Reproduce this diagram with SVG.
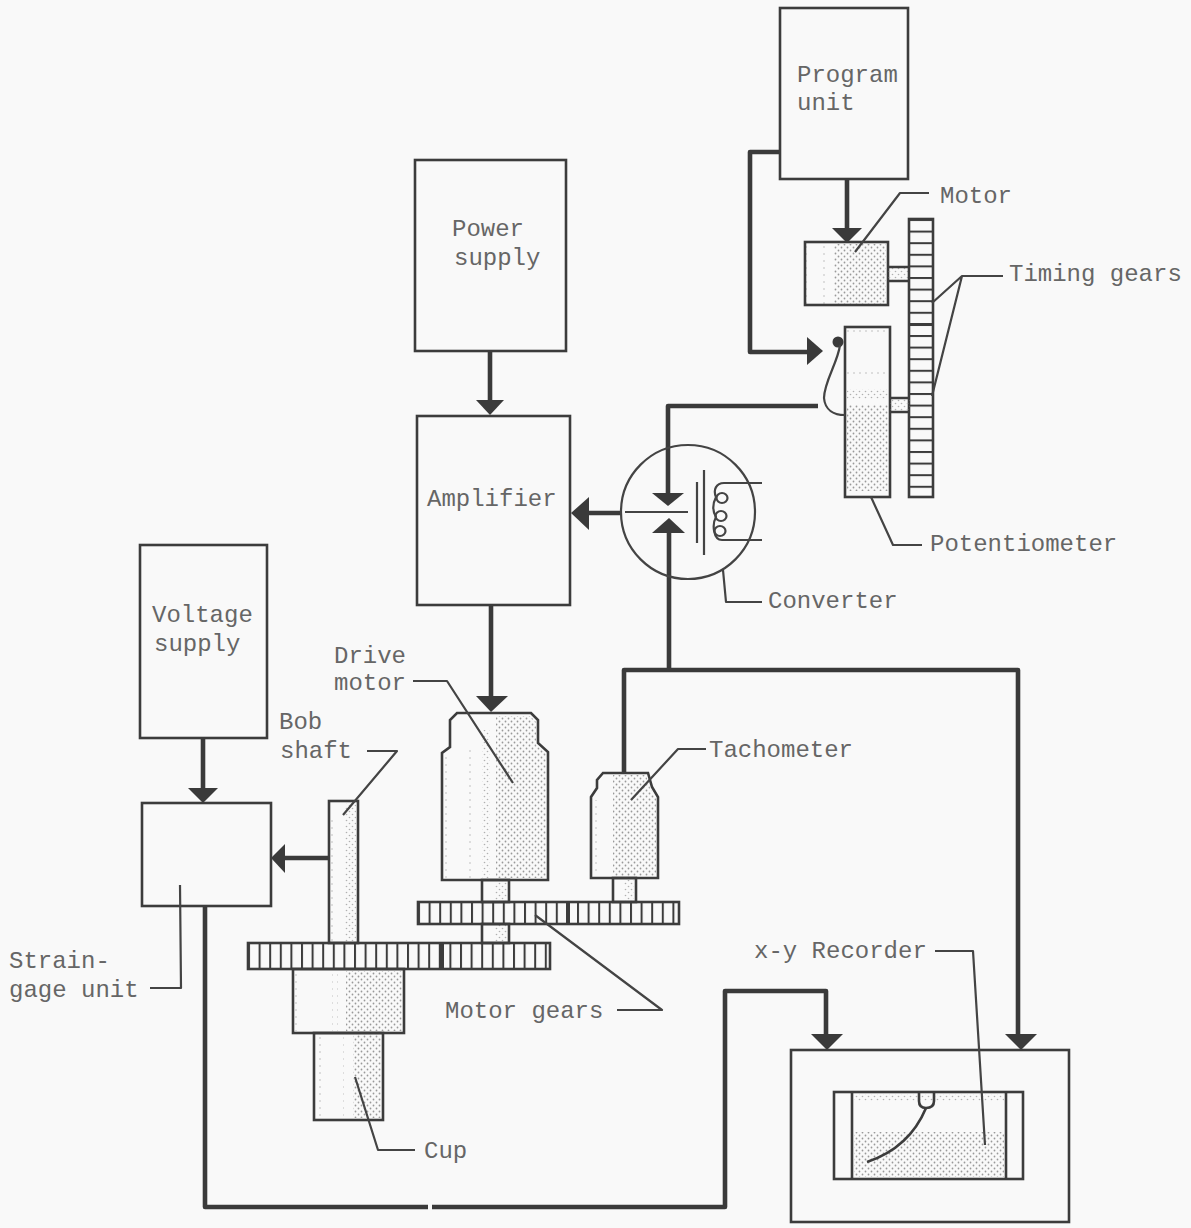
<svg xmlns="http://www.w3.org/2000/svg" width="1191" height="1228" viewBox="0 0 1191 1228">
<style>
.b{fill:none;stroke:#3c3c3c;stroke-width:2.6}
.w{fill:none;stroke:#3a3a3a;stroke-width:4.6;stroke-linejoin:round;stroke-linecap:butt}
.h{fill:#3a3a3a;stroke:none}
.l{fill:none;stroke:#444;stroke-width:2.2;stroke-linejoin:round}
.t{font-family:"Liberation Mono",monospace;font-size:24px;fill:#666}
.d{fill:url(#dense);stroke:none}
.s{fill:url(#sparse);stroke:none}
.v{fill:url(#vsparse);stroke:none}
</style>
<defs>
<pattern id="dense" width="6" height="6" patternUnits="userSpaceOnUse"><circle cx="1.5" cy="1.5" r="0.9" fill="#999"/><circle cx="4.5" cy="4.5" r="0.9" fill="#999"/></pattern>
<pattern id="sparse" width="6" height="6" patternUnits="userSpaceOnUse"><circle cx="1.5" cy="1.5" r="0.8" fill="#b0b0b0"/><circle cx="4.5" cy="4.5" r="0.8" fill="#b0b0b0"/></pattern>
<pattern id="vsparse" width="6" height="7" patternUnits="userSpaceOnUse"><circle cx="2" cy="2" r="0.8" fill="#b8b8b8"/></pattern>
<pattern id="teethV" width="10.6" height="30" patternUnits="userSpaceOnUse" x="418"><rect x="0" width="2" height="30" fill="#3c3c3c"/></pattern>
<pattern id="teethV2" width="10.6" height="30" patternUnits="userSpaceOnUse" x="248"><rect x="0" width="2" height="30" fill="#3c3c3c"/></pattern>
<pattern id="teethH" width="30" height="11.6" patternUnits="userSpaceOnUse" y="219"><rect y="0" width="30" height="2" fill="#3c3c3c"/></pattern>
</defs>
<rect width="1191" height="1228" fill="#f9f9f9"/>

<g id="connectors">
<path class="w" d="M780,152H750V352H810"/><path class="h" d="M823,351L807,337V365Z"/>
<path class="w" d="M847,179V230"/><path class="h" d="M847,243L832,228H862Z"/>
<path class="w" d="M818,406H668V495"/><path class="h" d="M668,506L652,493H684Z"/>
<path class="w" d="M669,670V532"/><path class="h" d="M669,518L652,533H685Z"/>
<path class="w" d="M620,513H587"/><path class="h" d="M571,513L589,497V530Z"/>
<path class="w" d="M490,351V400"/><path class="h" d="M490,415L476,400H504Z"/>
<path class="w" d="M491,605V697"/><path class="h" d="M491,712L476,696H508Z"/>
<path class="w" d="M624,773V670H1018V1035"/><path class="h" d="M1021,1050L1005,1034H1037Z"/>
<path class="w" d="M203,738V790"/><path class="h" d="M203,803L188,788H218Z"/>
<path class="w" d="M329,858H285"/><path class="h" d="M271,858L285,844V873Z"/>
<path class="w" d="M205,906V1207H428"/>
<path class="w" d="M432,1207H725V991H826V1035"/><path class="h" d="M827,1050L811,1034H843Z"/>
</g>

<g id="program-unit"><rect class="b" x="780" y="8" width="128" height="171"/><text class="t" x="797" y="82">Program</text><text class="t" x="797" y="110">unit</text></g>
<g id="power-supply"><rect class="b" x="415" y="160" width="151" height="191"/><text class="t" x="452" y="236">Power</text><text class="t" x="454" y="265">supply</text></g>
<g id="amplifier"><rect class="b" x="417" y="416" width="153" height="189"/><text class="t" x="427" y="506">Amplifier</text></g>
<g id="voltage-supply"><rect class="b" x="140" y="545" width="127" height="193"/><text class="t" x="152" y="622">Voltage</text><text class="t" x="154" y="651">supply</text></g>
<g id="strain-gage-unit"><rect class="b" x="142" y="803" width="129" height="103"/><path class="l" d="M180,885L181,988H150"/><text class="t" x="9" y="968">Strain-</text><text class="t" x="9" y="997">gage unit</text></g>

<g id="motor">
<rect class="v" x="806" y="244" width="5" height="60"/><rect class="v" x="822" y="244" width="5" height="60"/><rect class="d" x="834" y="244" width="52" height="60"/>
<rect class="b" x="805" y="242" width="83" height="63"/>
<rect class="s" x="888" y="268" width="21" height="13"/><path class="b" d="M888,267H909M888,281H909"/>
<path class="l" d="M855,252L900,193H929"/><text class="t" x="940" y="203">Motor</text>
</g>

<g id="timing-gears">
<rect x="909" y="219" width="24" height="278" fill="url(#teethH)"/>
<rect class="b" x="909" y="219" width="24" height="278"/>
<rect x="909" y="323" width="24" height="3" fill="#3c3c3c"/>
<path class="l" d="M1003,276H962L932,303M962,276L932,396"/><text class="t" x="1009" y="281">Timing gears</text>
</g>

<g id="potentiometer">
<rect class="v" x="847" y="330" width="41" height="5"/><rect class="v" x="847" y="369" width="41" height="7"/><rect class="s" x="847" y="389" width="41" height="10"/><rect class="d" x="847" y="405" width="41" height="86"/>
<rect class="b" x="845" y="327" width="45" height="170"/>
<rect class="s" x="890" y="399" width="20" height="13"/><path class="b" d="M890,398H910M890,412H910"/>
<circle cx="838" cy="342" r="5.5" fill="#3a3a3a"/><path class="l" d="M840,345C838,362 824,382 824,398C825,410 834,415 845,415"/>
<path class="l" d="M871,497L893,545H922"/><text class="t" x="930" y="551">Potentiometer</text>
</g>

<g id="converter">
<circle cx="688" cy="512" r="67" fill="none" stroke="#444" stroke-width="2.2"/>
<path class="l" d="M625,512H688M697,482V543M704,470V555"/>
<path class="l" d="M762,483H724C716,483 713,490 716,497C712,505 713,512 716,517C712,524 713,540 722,540H762"/>
<ellipse cx="722" cy="498" rx="5.5" ry="5" fill="none" stroke="#444" stroke-width="2.2"/><ellipse cx="721" cy="516" rx="5.5" ry="5" fill="none" stroke="#444" stroke-width="2.2"/><ellipse cx="720" cy="531" rx="5.5" ry="5" fill="none" stroke="#444" stroke-width="2.2"/>
<path class="l" d="M723,570L726,602H762"/><text class="t" x="768" y="608">Converter</text>
</g>

<g id="drive-motor">
<rect class="v" x="444" y="756" width="5" height="122"/><rect class="v" x="467" y="750" width="6" height="128"/><rect class="s" x="482" y="730" width="8" height="148"/><path class="d" d="M496,716H530L536,722V745L546,754V878H496Z"/>
<path class="b" d="M442,880V753L450,747V720L457,713H531L538,720V743L548,752V880Z"/>
<rect class="s" x="495" y="881" width="12" height="21"/><rect class="b" x="482" y="880" width="27" height="22"/>
<rect class="s" x="495" y="925" width="12" height="17"/><rect class="b" x="482" y="924" width="27" height="19"/>
<path class="l" d="M413,681H447L513,783"/><text class="t" x="334" y="663">Drive</text><text class="t" x="334" y="690">motor</text>
</g>

<g id="tachometer">
<rect class="v" x="593" y="800" width="5" height="76"/><path class="d" d="M613,775H646L650,788L656,798V876H613Z"/>
<path class="b" d="M591,878V797L597,788V780L603,773H648L652,787L658,797V878Z"/>
<rect class="s" x="624" y="879" width="10" height="23"/><rect class="b" x="613" y="878" width="23" height="24"/>
<path class="l" d="M631,800L678,749H706"/><text class="t" x="709" y="757">Tachometer</text>
</g>

<g id="motor-gears">
<rect x="418" y="902" width="261" height="22" fill="url(#teethV)"/><rect class="b" x="418" y="902" width="261" height="22"/><rect x="566" y="902" width="4" height="22" fill="#3c3c3c"/>
<rect x="248" y="943" width="302" height="26" fill="url(#teethV2)"/><rect class="b" x="248" y="943" width="302" height="26"/><rect x="440" y="943" width="4" height="26" fill="#3c3c3c"/>
<path class="l" d="M535,915L662,1010H617"/><text class="t" x="445" y="1018">Motor gears</text>
</g>

<g id="bob-shaft">
<rect class="v" x="331" y="815" width="4" height="127"/><rect class="s" x="345" y="803" width="11" height="139"/>
<rect class="b" x="329" y="801" width="29" height="142"/>
<path class="l" d="M367,751H397L343,815"/><text class="t" x="279" y="729">Bob</text><text class="t" x="280" y="758">shaft</text>
</g>

<g id="cup">
<rect class="v" x="295" y="971" width="6" height="60"/><rect class="v" x="332" y="971" width="6" height="60"/><rect class="d" x="346" y="971" width="56" height="60"/>
<rect class="b" x="293" y="969" width="111" height="64"/>
<rect class="v" x="316" y="1035" width="5" height="83"/><rect class="v" x="339" y="1035" width="5" height="83"/><rect class="d" x="353" y="1035" width="28" height="83"/>
<rect class="b" x="314" y="1033" width="69" height="87"/>
<path class="l" d="M355,1077L378,1150H415"/><text class="t" x="424" y="1158">Cup</text>
</g>

<g id="x-y-recorder">
<rect class="b" x="791" y="1050" width="278" height="172"/>
<rect class="s" x="854" y="1094" width="150" height="7"/><rect class="d" x="854" y="1132" width="150" height="45"/>
<rect class="b" x="834" y="1092" width="189" height="87"/><path class="b" d="M852,1092V1179M1006,1092V1179"/>
<path class="b" d="M919,1092V1101Q919,1108 926,1108Q934,1108 934,1101V1092"/>
<path class="b" d="M926,1108C916,1132 897,1152 867,1162"/>
<path class="l" d="M935,951H973L985,1145"/><text class="t" x="754" y="958">x-y Recorder</text>
</g>
</svg>
